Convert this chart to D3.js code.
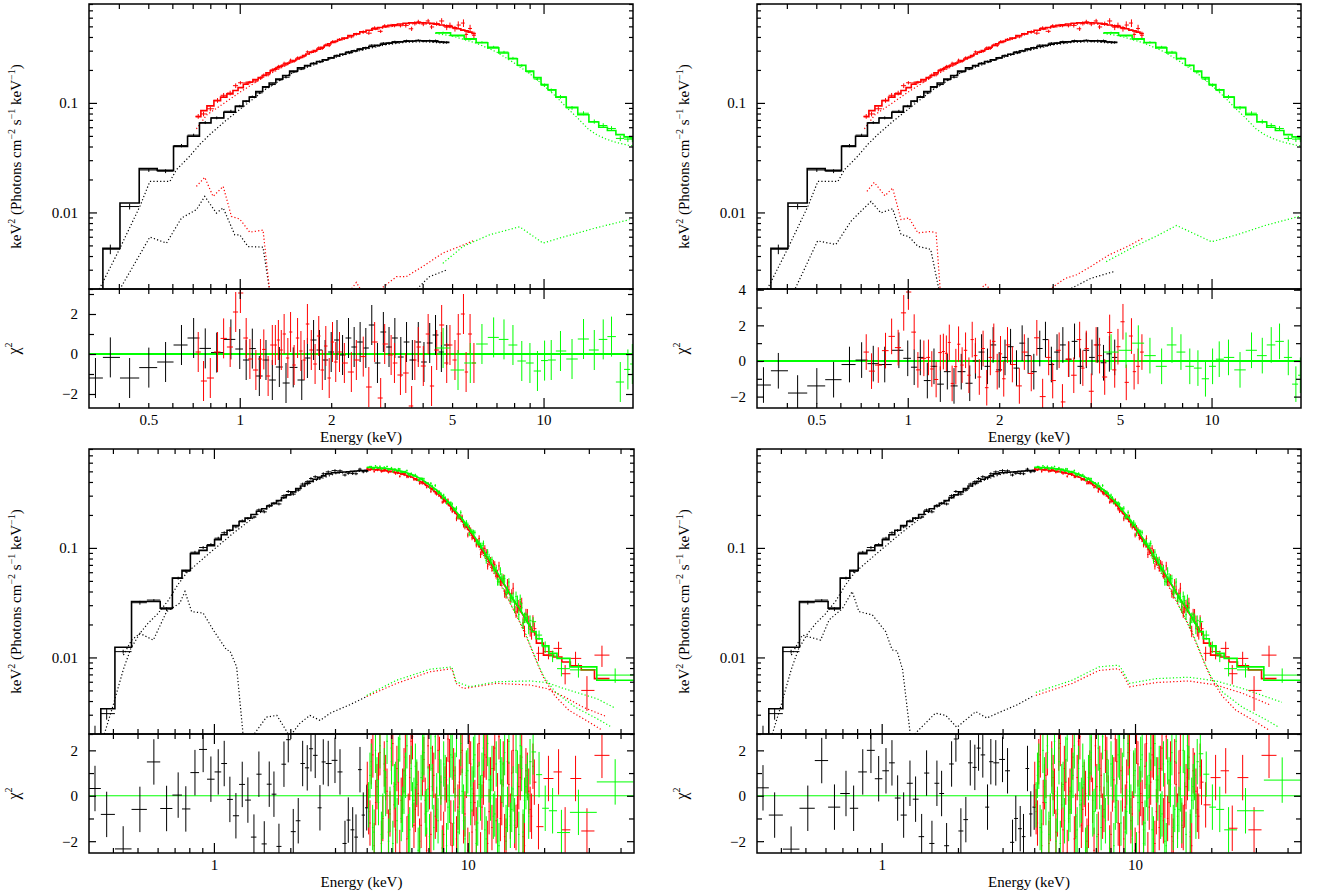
<!DOCTYPE html>
<html><head><meta charset="utf-8">
<script src="https://cdn.jsdelivr.net/npm/d3@7"></script>
<style>
html,body{margin:0;padding:0;background:#fff;}
svg{display:block;}
</style></head>
<body>
<svg id="chart" width="1319" height="896"></svg>
<script>
// ================= DATA =================
// Top spectra (shared by both upper fits): [E keV, data, model, relErr, chi(left fit), chi(right fit)]
const topBlack = [
[0.335,0.00102,0.0016,0.3,-1.2,-1.35],[0.375,0.00462,0.0047,0.1,-0.17,-0.55],[0.434,0.01132,0.0122,0.06,-1.2,-1.8],
[0.502,0.02442,0.0251,0.04,-0.68,-1.4],[0.570,0.02381,0.0242,0.04,-0.4,-1.05],[0.643,0.04074,0.0401,0.035,0.45,-0.2],
[0.705,0.05079,0.0496,0.03,0.8,0.05],[0.770,0.06613,0.0656,0.03,0.28,-0.15],[0.840,0.07305,0.0729,0.03,0.07,-0.2],
[0.935,0.0839,0.0821,0.03,0.73,0.6],[1.00,0.0936,0.093,0.025,0.25,0.15],[1.05,0.1032,0.104,0.025,-0.3,-0.35],
[1.10,0.1138,0.113,0.025,0.27,0.2],[1.16,0.1235,0.127,0.025,-1.1,-1.1],[1.22,0.139,0.14,0.025,-0.3,-0.3],
[1.28,0.1471,0.152,0.025,-1.3,-1.3],[1.35,0.1623,0.165,0.025,-0.65,-0.6],[1.42,0.1716,0.178,0.025,-1.45,-1.4],
[1.50,0.1917,0.195,0.025,-0.67,-0.6],[1.60,0.2036,0.209,0.02,-1.3,-1.25],[1.67,0.2181,0.219,0.02,-0.2,0.0],
[1.75,0.2312,0.228,0.02,0.7,0.5],[1.83,0.239,0.238,0.02,0.2,-0.3],[1.91,0.2465,0.248,0.02,-0.3,0.9],
[2.00,0.2585,0.258,0.02,0.1,-0.5],[2.09,0.2718,0.268,0.02,0.7,0.2],[2.18,0.2777,0.278,0.02,-0.05,0.8],
[2.28,0.2926,0.288,0.02,0.8,-0.4],[2.38,0.3001,0.298,0.02,0.35,1.0],[2.49,0.3117,0.308,0.02,0.6,0.3],
[2.60,0.3199,0.318,0.02,0.3,-0.6],[2.72,0.3365,0.327,0.02,1.45,0.7],[2.84,0.333,0.336,0.02,-0.45,1.2],
[2.97,0.3516,0.344,0.02,1.1,-0.2],[3.10,0.3535,0.351,0.02,0.35,0.5],[3.24,0.3627,0.357,0.02,0.8,0.9],
[3.39,0.3609,0.362,0.02,-0.15,0.1],[3.54,0.3704,0.366,0.02,0.6,1.1],[3.70,0.3658,0.368,0.02,-0.3,-0.3],
[3.87,0.3734,0.369,0.02,0.6,0.6],[4.04,0.366,0.369,0.02,-0.4,0.2],[4.22,0.371,0.367,0.02,0.55,0.9],
[4.41,0.3709,0.364,0.02,0.95,-0.1],[4.61,0.3607,0.36,0.02,0.1,0.4],[4.80,0.3592,0.356,0.02,0.45,0.2]
];
const topRed = [
[0.73,0.0754,0.075,0.05,0.1,0.5],[0.76,0.0793,0.085,0.05,-1.35,-0.57],[0.80,0.0884,0.094,0.05,-1.2,-0.23],
[0.845,0.1055,0.105,0.05,0.1,0.58],[0.885,0.1174,0.113,0.05,0.78,1.38],[0.93,0.1231,0.121,0.05,0.35,0.75],
[0.97,0.1437,0.13,0.05,2.1,2.7],[1.005,0.1527,0.138,0.035,3.05,3.87],[1.05,0.1521,0.148,0.035,0.8,1.62],
[1.08,0.1536,0.155,0.035,-0.25,-0.5],[1.13,0.1584,0.163,0.035,-0.8,0.15],[1.17,0.1685,0.170,0.035,-0.25,0.2],
[1.20,0.1794,0.178,0.035,0.23,-0.45],[1.24,0.1808,0.188,0.035,-1.1,-1.04],[1.28,0.2001,0.197,0.035,0.45,0.47],
[1.31,0.2062,0.203,0.035,0.45,0.53],[1.34,0.2151,0.210,0.035,0.7,0.43],[1.37,0.2175,0.216,0.035,0.2,1.04],
[1.40,0.2298,0.222,0.035,1.0,-1.26],[1.44,0.2284,0.230,0.035,-0.2,-0.32],[1.47,0.2451,0.236,0.035,1.1,0.94],
[1.51,0.240,0.244,0.03,-0.55,-0.23],[1.55,0.258,0.252,0.03,0.8,0.6],[1.59,0.2612,0.260,0.03,0.15,-0.8],
[1.63,0.2676,0.270,0.03,-0.3,1.2],[1.67,0.2926,0.280,0.03,1.5,0.3],[1.72,0.2917,0.290,0.03,0.2,-0.9],
[1.77,0.2955,0.300,0.03,-0.5,0.7],[1.82,0.3184,0.310,0.03,0.9,-1.5],[1.87,0.3143,0.322,0.03,-0.8,0.2],
[1.92,0.338,0.334,0.03,0.4,1.1],[1.97,0.3335,0.346,0.03,-1.2,-0.6],[2.02,0.3624,0.356,0.03,0.6,0.4],
[2.07,0.3616,0.366,0.03,-0.4,-1.0],[2.13,0.3791,0.378,0.03,0.1,0.9],[2.21,0.3867,0.392,0.03,-0.45,-0.2],
[2.33,0.4009,0.412,0.03,-0.9,-1.4],[2.42,0.4241,0.428,0.03,-0.3,0.5],[2.55,0.444,0.446,0.035,-0.13,-0.7],
[2.66,0.4333,0.460,0.035,-1.65,1.3],[2.78,0.484,0.474,0.035,0.6,-2.0],[2.91,0.4504,0.488,0.035,-2.2,0.2],
[3.00,0.5057,0.497,0.035,0.5,-1.1],[3.15,0.509,0.510,0.035,-0.05,0.6],[3.23,0.5078,0.516,0.035,-0.45,-2.3],
[3.38,0.5066,0.526,0.035,-1.05,0.1],[3.52,0.5103,0.533,0.045,-0.95,-0.8],[3.68,0.4751,0.538,0.045,-2.6,1.2],
[3.77,0.5327,0.540,0.045,-0.3,-0.4],[3.87,0.5497,0.541,0.045,0.35,0.7],[4.02,0.5254,0.540,0.045,-0.6,-1.7],
[4.17,0.5601,0.536,0.045,1.0,0.9],[4.28,0.4937,0.532,0.045,-1.6,0.3],[4.45,0.5287,0.524,0.045,0.2,-0.9],
[4.62,0.5598,0.515,0.06,1.45,1.6],[4.80,0.4914,0.505,0.06,-0.45,-0.5],[4.92,0.5104,0.497,0.06,0.45,0.8],
[5.11,0.4763,0.485,0.06,-0.3,2.2],[5.24,0.5141,0.476,0.08,1.0,-1.2],[5.45,0.536,0.462,0.08,2.0,1.4],
[5.56,0.4222,0.455,0.08,-0.9,-0.6],[5.73,0.4784,0.443,0.08,1.0,-0.3],[5.90,0.4145,0.430,0.08,-0.45,0.5]
];
const topGreen = [
[4.67,0.4386,0.436,0.02,0.3,0.5],[5.23,0.4084,0.415,0.02,-0.8,0.6],[5.74,0.3805,0.384,0.02,-0.45,1.0],
[6.27,0.3579,0.354,0.022,0.5,0.3],[6.85,0.3243,0.318,0.024,0.83,-0.3],[7.41,0.2914,0.286,0.026,0.73,0.9],
[7.93,0.2562,0.253,0.028,0.45,0.5],[8.48,0.2187,0.221,0.03,-0.35,-0.3],[9.02,0.1922,0.195,0.032,-0.45,-0.4],
[9.55,0.1651,0.170,0.034,-0.85,-1.0],[10.08,0.1452,0.147,0.036,-0.33,-0.3],[10.6,0.1305,0.132,0.038,-0.3,0.1],
[11.37,0.1137,0.113,0.04,0.15,0.2],[12.41,0.0901,0.091,0.04,-0.25,-0.5],[13.54,0.0805,0.078,0.042,0.75,0.6],
[14.69,0.0676,0.067,0.045,0.2,0.3],[15.72,0.0622,0.060,0.05,0.73,0.9],[16.74,0.0584,0.056,0.05,0.87,1.1],
[17.89,0.0474,0.0513,0.055,-1.4,0.2],[18.95,0.0467,0.049,0.06,-0.77,-1.3],[19.6,0.0466,0.048,0.06,-0.5,-0.8]
];
// Top model components (dotted), [E, keV^2 flux]
const tlBlackCont = [[0.345,0.002],[0.40,0.0045],[0.47,0.0115],[0.506,0.0192],[0.589,0.0192],[0.619,0.0246],[0.68,0.032],[0.74,0.042],[0.80,0.052],[0.90,0.069],[1.0,0.087],[1.2,0.13],[1.5,0.19],[2.0,0.254],[2.5,0.302],[3.0,0.338],[3.5,0.357],[4.0,0.362],[4.8,0.35]];
const tlRedCont = [[0.72,0.058],[0.78,0.078],[0.9,0.102],[1.0,0.125],[1.2,0.172],[1.5,0.238],[2.0,0.35],[2.5,0.435],[3.0,0.487],[3.5,0.522],[4.0,0.53],[4.5,0.516],[5.0,0.49],[5.5,0.462],[5.95,0.425]];
const tlGreenCont = [[4.4,0.432],[5,0.408],[6,0.352],[7,0.292],[8,0.232],[9,0.185],[10,0.145],[11,0.114],[12,0.089],[13,0.072],[14,0.058],[15,0.051],[16,0.047],[17,0.0443],[18,0.0425],[19,0.0412],[19.7,0.0405]];
const tlBlackLine = [[0.408,0.00211],[0.506,0.00596],[0.574,0.00525],[0.643,0.00889],[0.72,0.0106],[0.767,0.014],[0.838,0.00987],[0.882,0.011],[0.963,0.00625],[1.0,0.00625],[1.065,0.00488],[1.193,0.00482],[1.255,0.0019]];
const tlRedLine = [[0.72,0.0173],[0.767,0.0209],[0.817,0.014],[0.882,0.0173],[0.939,0.0092],[1.0,0.0087],[1.079,0.0066],[1.193,0.0069],[1.255,0.0019]];
const tlRedBump = [[2.30,0.0019],[2.42,0.0023],[2.52,0.0019]];
const tlRedHi = [[2.84,0.0019],[3.28,0.00259],[3.53,0.00259],[4.0,0.00321],[4.66,0.00425],[5.29,0.00489],[5.93,0.00558]];
const tlBlackHi = [[3.76,0.0019],[4.21,0.00259],[4.78,0.00297]];
const tlGreenHi = [[4.66,0.00343],[5.43,0.00489],[6.64,0.00625],[8.34,0.0074],[9.96,0.00525],[11.6,0.00596],[14.9,0.00724],[19.2,0.0086]];
const trBlackLine = [[0.422,0.0019],[0.505,0.0055],[0.58,0.0051],[0.65,0.0083],[0.70,0.0102],[0.757,0.0126],[0.816,0.0099],[0.892,0.0108],[0.95,0.0063],[1.01,0.006],[1.08,0.0049],[1.19,0.0046],[1.27,0.0019]];
const trRedLine = [[0.734,0.0156],[0.776,0.0188],[0.841,0.0142],[0.892,0.0167],[0.95,0.0086],[1.01,0.0089],[1.08,0.0065],[1.19,0.0067],[1.24,0.0065],[1.28,0.0019]];
const trRedBump = [[1.70,0.0019],[1.80,0.0022],[1.90,0.0019]];
const trRedHi = [[2.86,0.0019],[3.3,0.0025],[3.6,0.0027],[4.0,0.0032],[4.6,0.0041],[5.3,0.0049],[5.93,0.0058]];
const trBlackHi = [[3.3,0.0019],[4.0,0.0025],[4.8,0.0029]];
const trGreenHi = [[4.5,0.00355],[5.5,0.0048],[6.6,0.0061],[7.67,0.0076],[10.0,0.0054],[12,0.0062],[15,0.0076],[19.7,0.0093]];

// Bottom spectra: black rows [E, data, model, relErr, chiL, chiR]
const botBlack = [
[0.340,0.0017,0.0015,0.4,0.32,0.35],[0.378,0.00307,0.0034,0.12,-0.82,-0.85],[0.439,0.0113,0.0124,0.04,-2.34,-2.35],
[0.511,0.0316,0.0324,0.04,-0.6,-0.55],[0.580,0.0334,0.0324,0.02,1.49,1.55],[0.651,0.0276,0.0282,0.04,-0.56,-0.5],
[0.723,0.0530,0.053,0.03,0.03,0.1],[0.775,0.0612,0.0623,0.03,-0.58,-0.55],[0.842,0.0913,0.0886,0.03,1.02,1.05],
[0.907,0.1008,0.095,0.03,2.04,2.0],[0.973,0.1073,0.105,0.03,0.73,0.75],[1.040,0.1227,0.119,0.03,1.05,1.1],
[1.098,0.1376,0.132,0.03,1.42,1.45],[1.156,0.1443,0.145,0.03,-0.16,-0.1],[1.221,0.1558,0.16,0.03,-0.88,-0.85],
[1.293,0.1766,0.174,0.03,0.5,0.55],[1.361,0.1859,0.187,0.03,-0.19,-0.15],[1.438,0.1909,0.202,0.03,-1.82,-1.8],
[1.504,0.2222,0.216,0.03,0.95,1.0],[1.579,0.2134,0.228,0.03,-2.12,-2.1],[1.652,0.2446,0.241,0.03,0.51,0.55],
[1.724,0.2555,0.255,0.03,0.07,0.1],[1.804,0.2519,0.27,0.03,-2.23,-2.2],[1.888,0.300,0.288,0.03,1.39,1.4],
[1.963,0.3276,0.305,0.03,2.47,2.5],[2.054,0.3097,0.325,0.03,-1.58,-1.55],[2.149,0.3365,0.348,0.03,-1.1,-1.05],
[2.237,0.3828,0.367,0.03,1.42,1.45],[2.332,0.4024,0.388,0.03,1.23,1.25],[2.412,0.4301,0.405,0.03,2.07,2.1],
[2.507,0.4465,0.424,0.03,1.78,1.8],[2.617,0.4349,0.442,0.03,-0.53,-0.5],[2.697,0.4755,0.455,0.03,1.49,1.5],
[2.821,0.4944,0.474,0.03,1.42,1.45],[2.999,0.5078,0.485,0.03,1.56,1.6],[3.139,0.5057,0.49,0.03,1.05,1.1],
[3.284,0.4629,0.494,0.03,-2.1,-2.05],[3.384,0.4801,0.496,0.03,-1.07,-1.0],[3.522,0.4775,0.50,0.03,-1.5,-1.45],
[3.629,0.4753,0.503,0.03,-1.82,-1.8],[3.763,0.5237,0.506,0.03,1.15,1.2],[3.877,0.4953,0.508,0.03,-0.85,-0.8],
[3.999,0.5018,0.51,0.03,-0.53,-0.5]
];
// dense rows [E, data, relErr, chi] (same in both lower fits)
const botRedDense = [
[4.02,0.529,0.02,0.5],[4.12,0.5136,0.02,-1.2],[4.23,0.535,0.02,1.8],[4.34,0.5157,0.02,-0.3],[4.45,0.523,0.02,0.9],
[4.57,0.4968,0.02,-2.1],[4.69,0.5207,0.02,1.4],[4.81,0.5075,0.02,0.2],[4.94,0.496,0.02,-0.8],[5.07,0.5176,0.025,2.3],
[5.20,0.4768,0.025,-1.5],[5.33,0.4892,0.025,0.6],[5.47,0.4743,0.025,-0.2],[5.61,0.4783,0.025,1.1],[5.76,0.4443,0.025,-1.9],
[5.91,0.4565,0.025,0.8],[6.06,0.4606,0.025,2.6],[6.22,0.4234,0.025,-0.6],[6.38,0.4157,0.025,0.1],[6.55,0.3906,0.025,-1.3],
[6.72,0.4002,0.025,1.6],[6.89,0.3578,0.025,-2.4],[7.07,0.3626,0.035,0.4],[7.26,0.3523,0.035,1.2],[7.45,0.3187,0.035,-0.9],
[7.64,0.3255,0.035,2.0],[7.84,0.2923,0.035,-0.1],[8.04,0.2652,0.035,-1.7],[8.25,0.2646,0.035,0.7],[8.47,0.2532,0.035,1.5],
[8.69,0.2155,0.035,-2.2],[8.92,0.2136,0.035,0.3],[9.15,0.1926,0.05,-0.5],[9.39,0.192,0.05,1.9],[9.63,0.1615,0.05,-1.1],
[9.88,0.1609,0.05,0.9],[10.14,0.1539,0.05,2.4],[10.40,0.1237,0.05,-1.6],[10.67,0.1187,0.05,-0.3],[10.95,0.115,0.05,1.3],
[11.24,0.087,0.07,-2.6],[11.53,0.0948,0.07,0.6],[11.83,0.0911,0.07,1.7],[12.14,0.0743,0.07,-0.7],[12.46,0.0651,0.07,-1.4],
[12.78,0.0707,0.07,2.1],[13.11,0.058,0.09,0.0],[13.45,0.0493,0.09,-1.0],[13.80,0.0527,0.09,1.4],[14.16,0.0378,0.09,-2.0],
[14.53,0.0414,0.09,0.5],[14.91,0.0385,0.09,1.0],[15.30,0.0291,0.12,-1.3],[15.70,0.0287,0.12,-0.4],[16.11,0.0292,0.12,0.8],
[16.53,0.0208,0.12,-1.8],[16.96,0.0248,0.12,1.1],[17.40,0.0211,0.14,0.2],[17.85,0.0169,0.14,-0.9],[18.30,0.0183,0.14,0.6]
];
const botRedDense2 = [
[4.07,0.5167,0.02,-0.7],[4.17,0.5377,0.02,1.5],[4.28,0.4971,0.02,-2.2],[4.39,0.5211,0.02,0.4],[4.51,0.5346,0.02,1.9],
[4.63,0.5018,0.02,-1.0],[4.75,0.5161,0.02,0.8],[4.87,0.4879,0.02,-1.6],[5.00,0.5263,0.025,2.1],[5.13,0.4891,0.025,-0.4],
[5.26,0.5016,0.025,1.2],[5.40,0.45,0.025,-2.5],[5.54,0.4754,0.025,0.2],[5.68,0.4848,0.025,1.7],[5.83,0.4448,0.025,-0.9],
[5.98,0.4717,0.025,2.4],[6.14,0.4199,0.025,-1.3],[6.30,0.4273,0.025,0.5],[6.46,0.3876,0.025,-2.0],[6.63,0.4049,0.025,1.0],
[6.80,0.3801,0.025,-0.2],[6.98,0.3872,0.025,2.2],[7.16,0.3292,0.035,-1.7],[7.35,0.3445,0.035,0.9],[7.54,0.3113,0.035,-0.6],
[7.74,0.3189,0.035,1.6],[7.94,0.2621,0.035,-2.3],[8.14,0.2708,0.035,0.3],[8.36,0.2741,0.035,2.5],[8.58,0.2261,0.035,-1.2],
[8.80,0.2285,0.035,1.1],[9.03,0.1846,0.05,-1.9],[9.27,0.1936,0.05,0.6],[9.51,0.1914,0.05,2.0],[9.75,0.1555,0.05,-0.8],
[10.01,0.1311,0.05,-2.4],[10.27,0.1466,0.05,1.4],[10.53,0.1266,0.05,0.1],[10.81,0.1064,0.05,-1.5],[11.09,0.1219,0.07,2.3],
[11.38,0.0926,0.07,-0.5],[11.68,0.0991,0.07,1.8],[11.98,0.0682,0.07,-2.1],[12.30,0.0771,0.07,0.7],[12.62,0.0726,0.07,1.2],
[12.94,0.0563,0.07,-1.1],[13.28,0.0685,0.09,2.6],[13.62,0.0491,0.09,-0.3],[13.98,0.0385,0.09,-1.8],[14.34,0.0477,0.09,1.5],
[14.72,0.0349,0.09,-0.9],[15.10,0.0428,0.12,2.0],[15.50,0.0261,0.12,-1.4],[15.90,0.0299,0.12,0.4],[16.32,0.0313,0.12,1.7],
[16.74,0.0174,0.12,-2.2],[17.18,0.0243,0.14,0.9],[17.62,0.018,0.14,-0.6],[18.07,0.0213,0.14,1.3]
];
const botGreenDense = [
[4.07,0.5412,0.018,-0.4],[4.17,0.5522,0.018,1.3],[4.28,0.5307,0.018,-1.6],[4.39,0.5459,0.018,0.7],[4.51,0.5554,0.018,2.2],
[4.63,0.5307,0.018,-0.9],[4.75,0.5337,0.018,0.1],[4.88,0.5152,0.018,-2.0],[5.01,0.5376,0.022,1.5],[5.14,0.5223,0.022,0.4],
[5.27,0.503,0.022,-1.1],[5.40,0.5252,0.022,2.5],[5.54,0.4932,0.022,-0.6],[5.69,0.496,0.022,0.9],[5.84,0.4662,0.022,-1.8],
[5.99,0.479,0.022,1.2],[6.14,0.4575,0.022,-0.2],[6.30,0.4503,0.022,0.6],[6.47,0.4161,0.022,-2.3],[6.64,0.4294,0.022,1.7],
[6.81,0.3978,0.022,-0.8],[6.98,0.3889,0.022,0.3],[7.16,0.3881,0.03,2.1],[7.35,0.3421,0.03,-1.4],[7.55,0.336,0.03,0.0],
[7.74,0.325,0.03,1.0],[7.94,0.2835,0.03,-2.5],[8.15,0.288,0.03,0.8],[8.36,0.2631,0.03,-0.5],[8.58,0.2589,0.03,1.8],
[8.80,0.2249,0.03,-1.2],[9.03,0.2303,0.045,2.7],[9.27,0.1938,0.045,-0.7],[9.51,0.1851,0.045,0.2],[9.76,0.1613,0.045,-1.9],
[10.01,0.1632,0.045,1.1],[10.27,0.1437,0.045,-0.3],[10.53,0.1404,0.045,1.6],[10.81,0.1143,0.045,-2.1],[11.09,0.1125,0.065,0.5],
[11.38,0.1051,0.065,0.9],[11.68,0.0858,0.065,-1.5],[11.98,0.0916,0.065,2.3],[12.30,0.0757,0.065,-0.1],[12.62,0.0662,0.065,-0.9],
[12.95,0.0659,0.065,1.4],[13.28,0.0495,0.085,-2.2],[13.63,0.0542,0.085,0.7],[13.98,0.0524,0.085,1.9],[14.35,0.041,0.085,-0.6],
[14.72,0.0355,0.085,-1.3],[15.10,0.0353,0.11,0.3],[15.50,0.036,0.11,2.0],[15.90,0.0246,0.11,-1.7],[16.31,0.0285,0.11,1.2],
[16.74,0.0231,0.11,-0.2],[17.18,0.0226,0.11,0.8],[17.60,0.0218,0.11,1.5]
];
const botGreenDense2 = [
[4.12,0.5523,0.018,0.9],[4.22,0.5288,0.018,-1.4],[4.33,0.561,0.018,2.0],[4.45,0.5376,0.018,-0.3],[4.57,0.522,0.018,-1.7],
[4.69,0.5456,0.018,1.1],[4.81,0.5539,0.018,2.4],[4.94,0.5213,0.018,-0.6],[5.07,0.4979,0.022,-2.1],[5.20,0.5212,0.022,0.5],
[5.33,0.5264,0.022,1.6],[5.47,0.4905,0.022,-1.0],[5.61,0.4957,0.022,0.2],[5.76,0.5079,0.022,2.2],[5.91,0.4593,0.022,-1.5],
[6.06,0.4604,0.022,-0.4],[6.22,0.4654,0.022,1.3],[6.38,0.4158,0.022,-2.4],[6.55,0.4325,0.022,0.8],[6.72,0.4277,0.022,1.9],
[6.89,0.3889,0.022,-0.7],[7.07,0.3585,0.03,-1.8],[7.25,0.3663,0.03,0.4],[7.45,0.3714,0.03,2.6],[7.64,0.3162,0.03,-1.1],
[7.84,0.3146,0.03,0.6],[8.04,0.3037,0.03,1.4],[8.25,0.2564,0.03,-2.2],[8.47,0.256,0.03,-0.2],[8.69,0.2522,0.03,1.7],
[8.91,0.228,0.03,0.9],[9.15,0.1907,0.045,-1.6],[9.39,0.2108,0.045,2.3],[9.63,0.1735,0.045,-0.5],[9.88,0.1719,0.045,1.0],
[10.14,0.1338,0.045,-2.6],[10.40,0.1414,0.045,0.3],[10.67,0.1384,0.045,1.8],[10.95,0.1097,0.045,-1.2],[11.23,0.1048,0.065,-0.1],
[11.53,0.1097,0.065,2.1],[11.83,0.0767,0.065,-1.9],[12.14,0.0831,0.065,0.7],[12.46,0.0782,0.065,1.2],[12.78,0.0621,0.065,-0.8],
[13.11,0.0494,0.085,-2.0],[13.45,0.0614,0.085,1.5],[13.80,0.0516,0.085,0.5],[14.16,0.0392,0.085,-1.4],[14.53,0.0488,0.085,2.4],
[14.91,0.0346,0.085,-0.6],[15.30,0.0288,0.11,-1.1],[15.70,0.0331,0.11,1.0],[16.10,0.0338,0.11,2.2],[16.52,0.0204,0.11,-1.6],
[16.96,0.0232,0.11,0.4],[17.39,0.0183,0.11,-0.9]
];
// sparse high-energy rows [E, data, model, relErr, chiL, chiR]
const botRedSparse = [
[19.0,0.0109,0.0135,0.15,-1.36,-0.4],[20.8,0.0113,0.0105,0.15,0.76,0.8],[22.8,0.0121,0.0101,0.15,1.05,1.1],
[24.2,0.0071,0.0091,0.2,-1.5,-1.43],[26.6,0.0098,0.0084,0.15,0.76,0.8],[29.5,0.0050,0.0077,0.35,-1.55,-1.5],
[33.8,0.0105,0.0064,0.22,1.78,1.78]
];
const botGreenSparse = [
[18.1,0.0212,0.0172,0.1,1.93,1.85],[19.1,0.016,0.0148,0.1,0.93,0.95],[20.2,0.0125,0.0128,0.12,-0.55,-0.5],
[21.6,0.0103,0.0109,0.12,-0.66,-0.6],[23.4,0.0079,0.0098,0.15,-1.62,-1.5],[27.3,0.0077,0.0082,0.15,-0.73,-0.66],
[38.1,0.0069,0.0062,0.15,0.61,0.69]
];
// smooth model through the dense region [E, flux]
const botRedModel = [[4.0,0.525],[4.5,0.515],[5.0,0.50],[5.5,0.475],[6.0,0.445],[6.5,0.405],[7.0,0.365],[7.5,0.322],[8.0,0.28],[8.5,0.242],[9.0,0.205],[9.5,0.176],[10.0,0.15],[11.0,0.108],[12.0,0.079],[13.0,0.059],[14.0,0.045],[15.0,0.0345],[16.0,0.0275],[17.0,0.0218],[18.0,0.0178],[18.65,0.016]];
const botGreenModel = [[4.0,0.545],[4.5,0.54],[5.0,0.525],[5.5,0.50],[6.0,0.47],[6.5,0.43],[7.0,0.385],[7.5,0.34],[8.0,0.295],[8.5,0.255],[9.0,0.215],[9.5,0.185],[10.0,0.158],[11.0,0.113],[12.0,0.082],[13.0,0.061],[14.0,0.046],[15.0,0.035],[16.0,0.028],[17.0,0.022],[17.85,0.0185]];
// bottom components (dotted)
const blBlackCont = [[0.37,0.002],[0.40,0.0036],[0.44,0.0078],[0.47,0.012],[0.51,0.0165],[0.55,0.0205],[0.6,0.025],[0.66,0.033],[0.72,0.046],[0.78,0.059],[0.94,0.086],[1.19,0.136],[1.5,0.205],[2.0,0.31],[2.5,0.41],[3.0,0.475],[3.5,0.495],[4.0,0.507]];
const blBlackLine = [[0.44,0.0105],[0.474,0.0144],[0.511,0.0166],[0.577,0.0144],[0.651,0.0262],[0.734,0.0313],[0.769,0.040],[0.817,0.0262],[0.907,0.0254],[0.994,0.0178],[1.122,0.0117],[1.156,0.0115],[1.229,0.0082],[1.305,0.0019]];
const blBlackHi = [[1.42,0.0019],[1.61,0.00285],[1.77,0.00296],[1.99,0.0019],[2.18,0.0025],[2.39,0.00296],[2.62,0.00266],[2.87,0.0031],[3.43,0.0037],[4.0,0.0044]];
const blGreenRefl = [[4.0,0.0045],[5.25,0.0062],[7.1,0.0078],[8.66,0.0082],[9.0,0.006],[10.2,0.0054],[13.0,0.006],[17.6,0.0061],[20.5,0.0059],[23.9,0.0052],[32.3,0.0042],[37.6,0.0035]];
const blRedRefl = [[4.0,0.0044],[5.25,0.0058],[7.1,0.0074],[8.66,0.0079],[9.0,0.0058],[9.6,0.0052],[13.0,0.0058],[17.6,0.0056],[20.5,0.0052],[23.9,0.0044],[28.6,0.0035],[35.0,0.0029]];
const blGreenCont = [[4.0,0.54],[5,0.52],[6,0.465],[7,0.378],[8,0.29],[9,0.21],[10,0.152],[11,0.108],[12,0.076],[13,0.055],[14,0.04],[15,0.0285],[16,0.0215],[17,0.016],[18,0.0115],[19,0.0085],[20,0.0066],[22.2,0.0048],[26.6,0.0035],[32.9,0.0027],[37,0.0023]];
const blRedCont = [[4.0,0.52],[5,0.495],[6,0.44],[7,0.358],[8,0.275],[9,0.2],[10,0.145],[11,0.103],[12,0.074],[13,0.053],[14,0.039],[15,0.0285],[16,0.0212],[17,0.0155],[18,0.0113],[19,0.0083],[20,0.0064],[22,0.0045],[25,0.0033],[29,0.0027],[33.5,0.0022]];
const brBlackLine = [[0.44,0.0105],[0.486,0.016],[0.574,0.0144],[0.62,0.022],[0.70,0.028],[0.765,0.040],[0.813,0.0262],[0.918,0.0245],[1.037,0.0172],[1.10,0.0117],[1.15,0.0115],[1.21,0.0077],[1.30,0.0019]];
const brBlackHi = [[1.32,0.0019],[1.63,0.0031],[1.79,0.00296],[1.98,0.0023],[2.35,0.0032],[2.6,0.0028],[2.87,0.0031],[3.43,0.0037],[4.0,0.0045]];
const brGreenRefl = [[4.06,0.0048],[5.66,0.0062],[7.2,0.0082],[8.6,0.0085],[8.9,0.0077],[9.5,0.0058],[12.1,0.0064],[16.3,0.0066],[20.9,0.0061],[26.6,0.0052],[38,0.0039]];
const brRedRefl = [[4.06,0.0045],[5.66,0.0058],[7.2,0.0076],[8.6,0.0079],[8.9,0.0072],[9.5,0.0054],[12.1,0.0059],[16.3,0.0061],[20.9,0.0056],[26.6,0.0047],[34,0.0037]];

// tick labels
const topXLabels = [0.5, 1, 2, 5, 10];
const botXLabels = [1, 10];
const fluxLabels = [0.01, 0.1];
const chiLabelsA = [-2, 0, 2];
const chiLabelsB = [-2, 0, 2, 4];
const yDom = [0.002, 0.8];

// ================= DRAWING =================
const FONT = '"Liberation Serif","Times New Roman",Times,serif';
const svg = d3.select('#chart');
const BLACK = '#000', RED = '#ff0000', GREEN = '#00ff00';

function edgesOf(Es){
  return Es.map((e,i)=>{
    const prev = i>0 ? Es[i-1] : e*e/Es[i+1];
    const next = i<Es.length-1 ? Es[i+1] : e*e/Es[i-1];
    return [Math.sqrt(prev*e), Math.sqrt(e*next)];
  });
}
function fullRows(rows){
  const ed = edgesOf(rows.map(r=>r[0]));
  return rows.map((r,i)=>({E:r[0],data:r[1],model:r[2],rel:r[3],chiL:r[4],chiR:r[5],lo:ed[i][0],hi:ed[i][1]}));
}
function denseSparse(dense, sparse){
  const ed = edgesOf(dense.map(r=>r[0]).concat(sparse.map(r=>r[0])));
  const a = dense.map((r,i)=>({E:r[0],data:r[1],model:null,rel:r[2],chiL:r[3],chiR:r[3],lo:ed[i][0],hi:ed[i][1]}));
  const b = sparse.map((r,j)=>{const i=dense.length+j; return {E:r[0],data:r[1],model:r[2],rel:r[3],chiL:r[4],chiR:r[5],lo:ed[i][0],hi:ed[i][1]};});
  return a.concat(b);
}
const byE = (a,b)=>a[0]-b[0];
const topSets = [
  {items: fullRows(topBlack), color: BLACK},
  {items: fullRows(topRed), color: RED},
  {items: fullRows(topGreen), color: GREEN}
];
const botSets = [
  {items: fullRows(botBlack), color: BLACK},
  {items: denseSparse(botRedDense.concat(botRedDense2).sort(byE), botRedSparse), color: RED, knots: botRedModel},
  {items: denseSparse(botGreenDense.concat(botGreenDense2).sort(byE), botGreenSparse), color: GREEN, knots: botGreenModel}
];

function logTicks(dom){
  const maj=[], min=[];
  for(let k=Math.floor(Math.log10(dom[0])); k<=Math.ceil(Math.log10(dom[1])); k++){
    for(let m=1;m<=9;m++){
      const v = +(m*Math.pow(10,k)).toPrecision(6);
      if(v>=dom[0]*0.9999 && v<=dom[1]*1.0001) (m===1?maj:min).push(v);
    }
  }
  return {maj, min};
}
function axis(fn, scale, vals, len, tx, ty, fmt, pad){
  const a = fn(scale).tickValues(vals).tickSizeInner(-len).tickSizeOuter(0).tickPadding(pad||3).tickFormat(fmt||(()=>''));
  const g = svg.append('g').attr('transform',`translate(${tx},${ty})`).call(a);
  g.select('.domain').remove();
  g.attr('font-family',FONT).attr('font-size',15);
  g.selectAll('line').attr('stroke','#000').attr('stroke-width',1.2);
  g.selectAll('text').attr('fill','#000');
  return g;
}
const fmtNum = d => d<0 ? '\u2212'+Math.abs(d) : String(d);

function yTitle(cx, cy){
  const t = svg.append('text').attr('transform',`translate(${cx},${cy}) rotate(-90)`)
    .attr('text-anchor','middle').attr('font-family',FONT).attr('font-size',15).attr('fill','#000');
  const parts = [['keV',0],['2',1],[' (Photons cm',0],['\u22122',1],[' s',0],['\u22121',1],[' keV',0],['\u22121',1],[')',0]];
  let prev = 0;
  parts.forEach(([s,sup])=>{
    const ts = t.append('tspan').text(s);
    if(sup){ ts.attr('font-size',10).attr('dy',-6); }
    else if(prev){ ts.attr('dy',6); }
    prev = sup;
  });
}
function chiTitle(cx, cy){
  const t = svg.append('text').attr('transform',`translate(${cx},${cy}) rotate(-90)`)
    .attr('text-anchor','middle').attr('font-family',FONT).attr('font-size',16).attr('fill','#000');
  t.append('tspan').text('\u03c7');
  t.append('tspan').attr('font-size',10).attr('dy',-7).text('2');
}

function drawPanel(p){
  const x = d3.scaleLog().domain(p.xDom).range([p.x0,p.x1]);
  const y = d3.scaleLog().domain(yDom).range([p.yMid,p.yTop]);
  const r = d3.scaleLinear().domain(p.rDom).range([p.yBot,p.yMid]);
  const defs = svg.append('defs');
  defs.append('clipPath').attr('id',p.id+'m').append('rect')
    .attr('x',p.x0).attr('y',p.yTop).attr('width',p.x1-p.x0).attr('height',p.yMid-p.yTop);
  defs.append('clipPath').attr('id',p.id+'r').append('rect')
    .attr('x',p.x0).attr('y',p.yMid).attr('width',p.x1-p.x0).attr('height',p.yBot-p.yMid);
  const gm = svg.append('g').attr('clip-path',`url(#${p.id}m)`);
  const gr = svg.append('g').attr('clip-path',`url(#${p.id}r)`);
  const ln = d3.line().x(d=>x(d[0])).y(d=>y(d[1]));

  p.comps.forEach(c=>{
    gm.append('path').attr('d',ln(c[0])).attr('fill','none').attr('stroke',c[1])
      .attr('stroke-width',1.2).attr('stroke-dasharray','1.2,2.2');
  });
  gr.append('line').attr('x1',p.x0).attr('x2',p.x1).attr('y1',r(0)).attr('y2',r(0))
    .attr('stroke',GREEN).attr('stroke-width',p.zeroW);

  p.sets.forEach(s=>{
    const pts = (s.knots||[]).slice();
    s.items.forEach(it=>{ if(it.model!=null){ pts.push([it.lo,it.model]); pts.push([it.hi,it.model]); } });
    gm.append('path').attr('d',ln(pts)).attr('fill','none').attr('stroke',s.color).attr('stroke-width',1.6);
    gm.append('path').attr('fill','none').attr('stroke',s.color).attr('stroke-width',1)
      .attr('d', s.items.map(it=>`M${x(it.lo)},${y(it.data)}H${x(it.hi)}M${x(it.E)},${y(it.data*(1-it.rel))}V${y(it.data*(1+it.rel))}`).join(''));
    gr.append('path').attr('fill','none').attr('stroke',s.color).attr('stroke-width',1)
      .attr('d', s.items.map(it=>{const c=it[p.side]; return `M${x(it.lo)},${r(c)}H${x(it.hi)}M${x(it.E)},${r(c-1)}V${r(c+1)}`;}).join(''));
  });

  svg.append('rect').attr('x',p.x0).attr('y',p.yTop).attr('width',p.x1-p.x0).attr('height',p.yMid-p.yTop)
    .attr('fill','none').attr('stroke','#000').attr('stroke-width',1.5);
  svg.append('rect').attr('x',p.x0).attr('y',p.yMid).attr('width',p.x1-p.x0).attr('height',p.yBot-p.yMid)
    .attr('fill','none').attr('stroke','#000').attr('stroke-width',1.5);

  const xt = logTicks(p.xDom);
  [[d3.axisTop,p.yTop],[d3.axisBottom,p.yMid],[d3.axisTop,p.yMid],[d3.axisBottom,p.yBot]].forEach(([fn,yy])=>{
    axis(fn,x,xt.maj,10,0,yy);
    axis(fn,x,xt.min,5,0,yy);
  });
  axis(d3.axisBottom,x,p.xLab,0,0,p.yBot,d=>String(d),6);
  const yt = logTicks(yDom);
  [[d3.axisLeft,p.x0],[d3.axisRight,p.x1]].forEach(([fn,xx])=>{
    axis(fn,y,yt.maj,8,xx,0);
    axis(fn,y,yt.min,4,xx,0);
  });
  axis(d3.axisLeft,y,fluxLabels,0,p.x0,0,d=>String(d),11);
  const ints = d3.range(Math.ceil(p.rDom[0]), Math.floor(p.rDom[1])+1);
  const even = ints.filter(v=>v%2===0), odd = ints.filter(v=>v%2!==0);
  [[d3.axisLeft,p.x0],[d3.axisRight,p.x1]].forEach(([fn,xx])=>{
    axis(fn,r,even,7,xx,0);
    axis(fn,r,odd,5,xx,0);
  });
  axis(d3.axisLeft,r,p.rLab,0,p.x0,0,fmtNum,11);

  yTitle(p.x0-68, (p.yTop+p.yMid)/2+10);
  chiTitle(p.x0-70, (p.yMid+p.yBot)/2);
  svg.append('text').attr('x',(p.x0+p.x1)/2).attr('y',p.yBot+34).attr('text-anchor','middle')
    .attr('font-family',FONT).attr('font-size',15).attr('fill','#000').text('Energy (keV)');
}

const panels = [
  {id:'tl', x0:89, x1:633, yTop:4, yMid:289, yBot:408, xDom:[0.319,19.7], rDom:[-2.7,3.25], side:'chiL',
   xLab:topXLabels, rLab:chiLabelsA, zeroW:2, sets:topSets,
   comps:[[tlBlackCont,BLACK],[tlRedCont,RED],[tlGreenCont,GREEN],[tlBlackLine,BLACK],[tlRedLine,RED],
          [tlRedBump,RED],[tlRedHi,RED],[tlBlackHi,BLACK],[tlGreenHi,GREEN]]},
  {id:'tr', x0:757, x1:1301, yTop:4, yMid:289, yBot:408, xDom:[0.319,19.7], rDom:[-2.64,4.04], side:'chiR',
   xLab:topXLabels, rLab:chiLabelsB, zeroW:2, sets:topSets,
   comps:[[tlBlackCont,BLACK],[tlRedCont,RED],[tlGreenCont,GREEN],[trBlackLine,BLACK],[trRedLine,RED],
          [trRedBump,RED],[trRedHi,RED],[trBlackHi,BLACK],[trGreenHi,GREEN]]},
  {id:'bl', x0:89, x1:634, yTop:449, yMid:734, yBot:853, xDom:[0.322,45.2], rDom:[-2.52,2.72], side:'chiL',
   xLab:botXLabels, rLab:chiLabelsA, zeroW:1, sets:botSets,
   comps:[[blBlackCont,BLACK],[blBlackLine,BLACK],[blBlackHi,BLACK],[blRedRefl,RED],[blGreenRefl,GREEN],
          [blRedCont,RED],[blGreenCont,GREEN]]},
  {id:'br', x0:757, x1:1301, yTop:449, yMid:734, yBot:853, xDom:[0.322,45.2], rDom:[-2.52,2.72], side:'chiR',
   xLab:botXLabels, rLab:chiLabelsA, zeroW:1, sets:botSets,
   comps:[[blBlackCont,BLACK],[brBlackLine,BLACK],[brBlackHi,BLACK],[brRedRefl,RED],[brGreenRefl,GREEN],
          [blRedCont,RED],[blGreenCont,GREEN]]}
];
panels.forEach(drawPanel);
</script>
</body></html>
